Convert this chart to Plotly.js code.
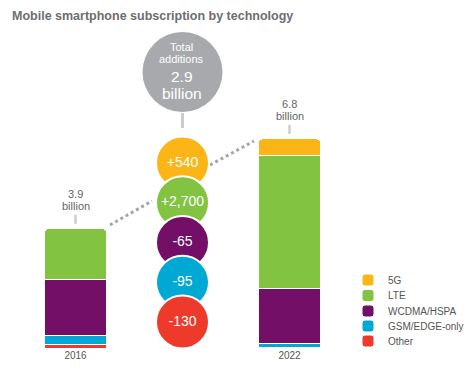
<!DOCTYPE html>
<html>
<head>
<meta charset="utf-8">
<script src="https://cdn.plot.ly/plotly-3.0.1.min.js"></script>
<style>html,body{margin:0;padding:0;background:#fff;}#chart{width:467px;height:377px;}</style>
</head>
<body>
<div id="chart"></div>
<script>
// ---- data ----
const categories = ['2016', 'Change', '2022'];
const years = ['2016', '2022'];
const techs = ['5G', 'LTE', 'WCDMA/HSPA', 'GSM/EDGE-only', 'Other'];
const v5G    = [0.00, 0.54];
const vLTE   = [1.65, 4.32];
const vWCDMA = [1.83, 1.79];
const vGSM   = [0.29, 0.11];
const vOther = [0.10, 0.03];
const totalLabels = ['3.9', '6.8'];
const changeValues = [540, 2700, -65, -95, -130];
const changeLabels = ['+540', '+2,700', '-65', '-95', '-130'];
const totalAdditionsLabel = '2.9';

// ---- styles / layout constants ----
const colors = ['#fbb516', '#82c341', '#740f68', '#00a9d4', '#ee3a2b'];
const FONT = 'Liberation Sans, Arial, Helvetica, sans-serif';
const W = 467, H = 377;
const M = {l: 22, r: 124, t: 20, b: 29};
const Y_MAX = 10.65;
const plotH = H - M.t - M.b;
const pxPerUnit = plotH / Y_MAX;
const plotBottom = H - M.b;
const pyToY = py => (plotBottom - py) / pxPerUnit;
const catW = (W - M.l - M.r) / 3;
const pxToX = px => (px - M.l) / catW - 0.5;

const seriesVals = [v5G, vLTE, vWCDMA, vGSM, vOther];
const totals = years.map((_, i) => seriesVals.reduce((s, a) => s + a[i], 0));

// legend rows (one legend per item for exact placement)
const legendRowsPx = [280, 295.5, 311, 326, 341];
const legendIds = ['legend', 'legend2', 'legend3', 'legend4', 'legend5'];

const traces = [];
// stacked bars: bottom (Other) first
for (let k = techs.length - 1; k >= 0; k--) {
  traces.push({
    type: 'bar', name: techs[k], x: years, y: seriesVals[k], legend: legendIds[k],
    marker: {color: colors[k], line: {color: '#ffffff', width: 1}},
    hoverinfo: 'name+y'
  });
}
// total additions circle
traces.push({
  type: 'scatter', mode: 'markers', x: ['Change'], y: [pyToY(72)],
  marker: {size: 80, color: '#a7a9ac', line: {width: 0}},
  showlegend: false, hoverinfo: 'skip', cliponaxis: false
});
// change circles
const cTop = 163, cStep = 39.75;
traces.push({
  type: 'scatter', mode: 'markers+text',
  x: changeValues.map(() => 'Change'),
  y: changeValues.map((_, i) => pyToY(cTop + i * cStep)),
  text: changeLabels, textposition: 'middle center',
  textfont: {family: FONT, size: 14, color: '#ffffff'},
  marker: {size: 53, color: colors, line: {color: '#ffffff', width: 2}, opacity: 1},
  customdata: changeValues,
  showlegend: false, hovertemplate: '%{customdata}<extra></extra>', cliponaxis: false
});

const annotations = [];
years.forEach((yr, i) => {
  const xi = categories.indexOf(yr);
  annotations.push({x: xi, y: totals[i], yanchor: 'middle', yshift: 35, text: totalLabels[i], showarrow: false,
    font: {family: FONT, size: 11, color: '#666666'}});
  annotations.push({x: xi, y: totals[i], yanchor: 'middle', yshift: 23, text: 'billion', showarrow: false,
    font: {family: FONT, size: 11, color: '#666666'}});
});
annotations.push({x: 1, y: pyToY(47), text: 'Total', showarrow: false, xshift: -1,
  font: {family: FONT, size: 11, color: '#ffffff'}});
annotations.push({x: 1, y: pyToY(58.5), text: 'additions', showarrow: false, xshift: -1,
  font: {family: FONT, size: 11, color: '#ffffff'}});
annotations.push({x: 1, y: pyToY(76.5), text: totalAdditionsLabel, showarrow: false, xshift: -1,
  font: {family: FONT, size: 15.5, color: '#ffffff'}});
annotations.push({x: 1, y: pyToY(93), text: 'billion', showarrow: false, xshift: -1,
  font: {family: FONT, size: 15.5, color: '#ffffff'}});

const shapes = [];
// small ticks above bars and baselines
years.forEach((yr, i) => {
  const xi = categories.indexOf(yr);
  shapes.push({type: 'line', xref: 'x', yref: 'y', ysizemode: 'pixel', yanchor: totals[i],
    x0: xi, x1: xi, y0: 5, y1: 14, line: {color: '#cccccc', width: 2.5}});
  shapes.push({type: 'line', xref: 'x', yref: 'y', ysizemode: 'pixel', yanchor: 0,
    x0: xi - 0.33, x1: xi + 0.33, y0: -1, y1: -1, line: {color: '#cfcfcf', width: 1.5}});
});
// connector between total circle and change circles
shapes.push({type: 'line', xref: 'x', yref: 'y', x0: 1, x1: 1, y0: pyToY(113), y1: pyToY(128),
  line: {color: '#cccccc', width: 3}});
// dotted connectors
shapes.push({type: 'line', xref: 'x', yref: 'y', x0: pxToX(110), y0: pyToY(225), x1: pxToX(152), y1: pyToY(201),
  line: {color: '#a6a6a6', width: 3, dash: 'dot'}});
shapes.push({type: 'line', xref: 'x', yref: 'y', x0: pxToX(210), y0: pyToY(165), x1: pxToX(254), y1: pyToY(141),
  line: {color: '#a6a6a6', width: 3, dash: 'dot'}});

const layout = {
  width: W, height: H, margin: M,
  paper_bgcolor: '#ffffff', plot_bgcolor: '#ffffff',
  font: {family: FONT, color: '#555555'},
  barmode: 'stack', bargap: 0.42, barcornerradius: 4,
  title: {text: '<b>Mobile smartphone subscription by technology</b>', x: 12 / W, xref: 'container', xanchor: 'left',
    y: 1 - 16 / H, yref: 'container', yanchor: 'middle',
    font: {family: FONT, size: 12.5, color: '#6d6e71'}},
  xaxis: {type: 'category', categoryorder: 'array', categoryarray: categories, range: [-0.5, 2.5],
    tickvals: years, ticktext: years, showgrid: false, zeroline: false, showline: false, ticks: '',
    tickfont: {family: FONT, size: 10, color: '#555555'}, fixedrange: true},
  yaxis: {range: [0, Y_MAX], visible: false, showgrid: false, zeroline: false, fixedrange: true},
  showlegend: true,
  annotations: annotations, shapes: shapes
};
legendIds.forEach((id, k) => {
  layout[id] = {xref: 'container', yref: 'container', x: 348 / W, y: 1 - legendRowsPx[k] / H,
    xanchor: 'left', yanchor: 'middle', font: {family: FONT, size: 10, color: '#555555'},
    bgcolor: 'rgba(0,0,0,0)', borderwidth: 0};
});

Plotly.newPlot('chart', traces, layout, {displayModeBar: false, staticPlot: true});
</script>
</body>
</html>
